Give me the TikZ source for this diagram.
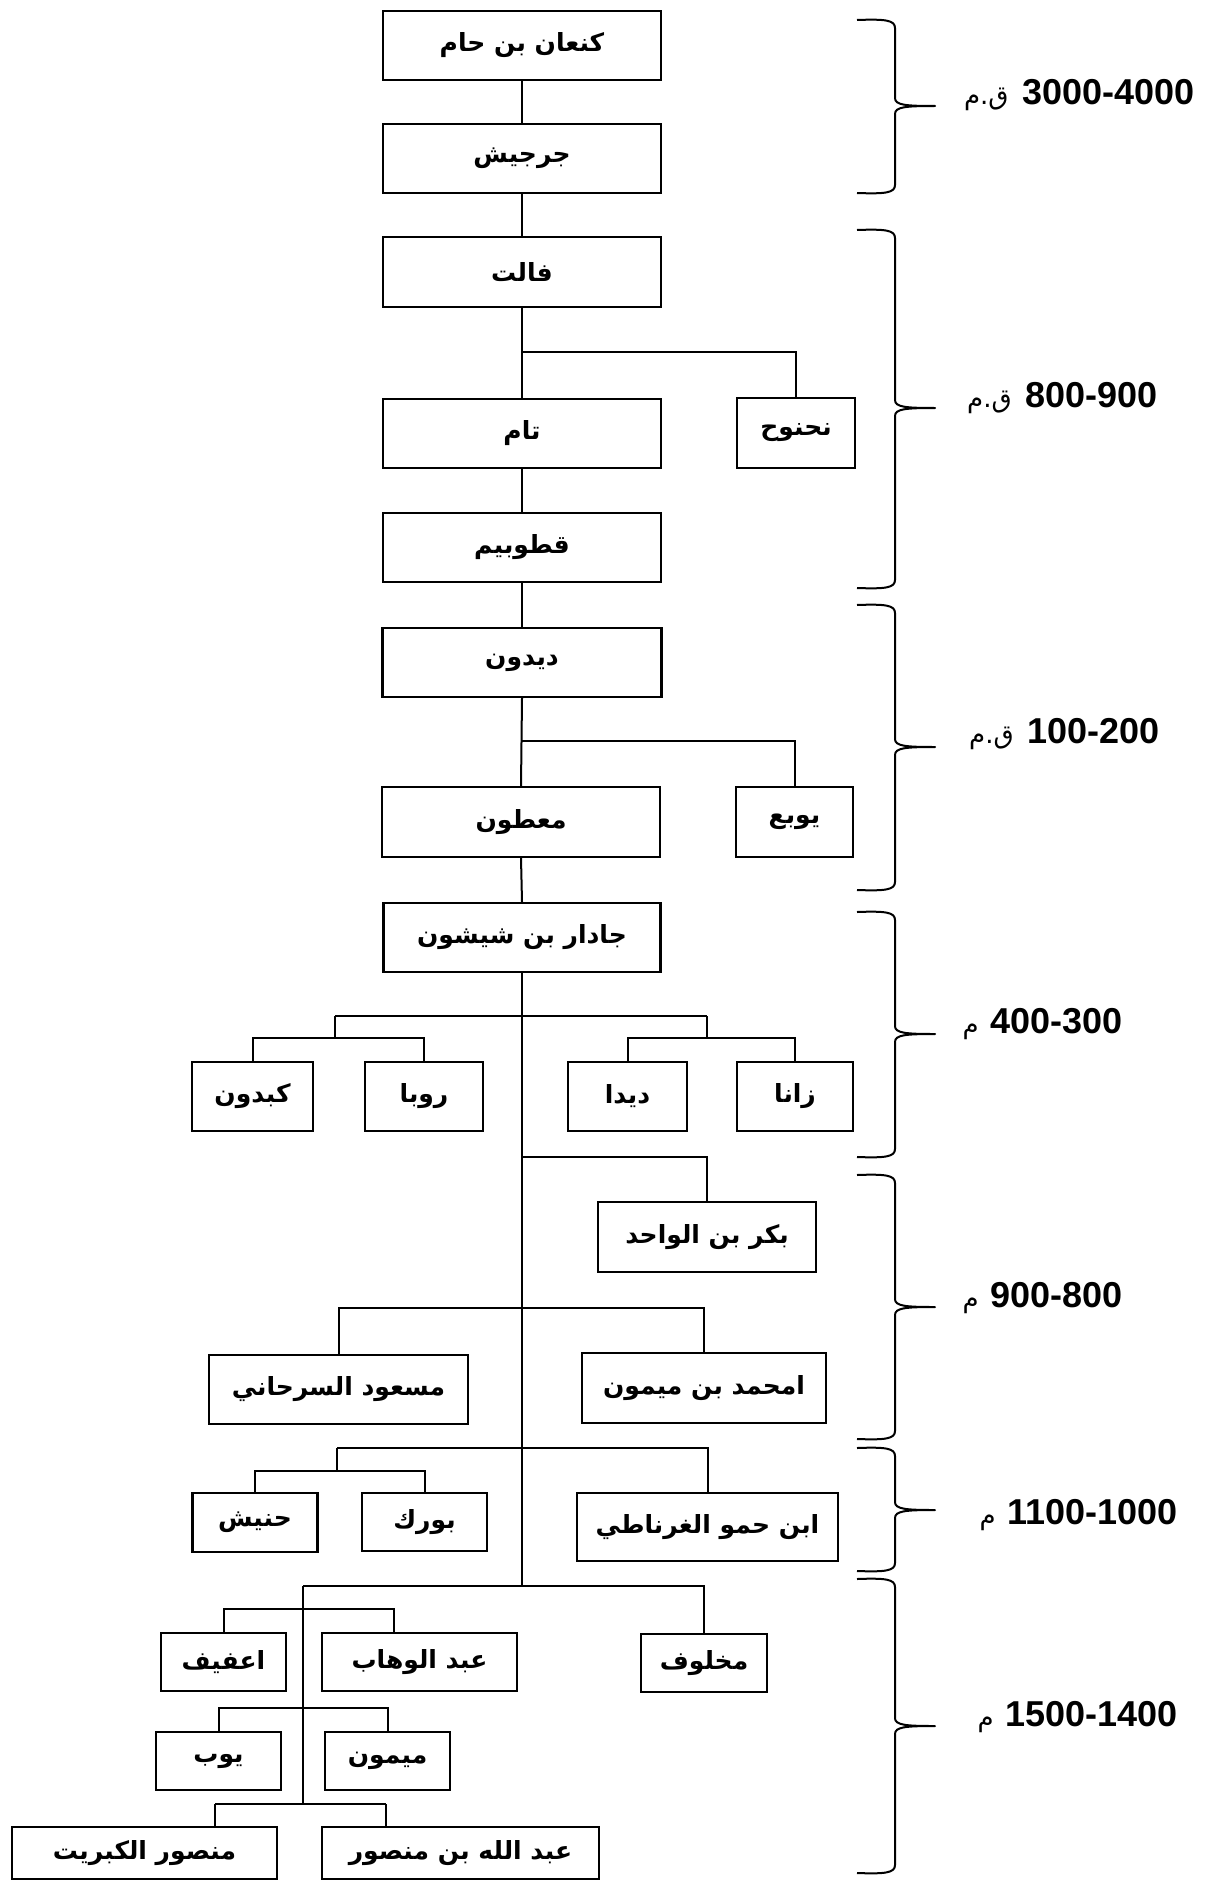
\documentclass[tikz,border=0pt]{standalone}
\usepackage{fontspec}
\TeXXeTstate=1
\newfontfamily\arabicfont[Script=Arabic]{DejaVu Sans}
\newfontfamily\numfont{Liberation Sans}
\newcommand\artxt[1]{{\arabicfont\bfseries\fontsize{25}{30}\selectfont\beginR #1\endR}}
\newcommand\artlab[1]{{\arabicfont\fontsize{26}{30}\selectfont\beginR #1\endR}}
\newcommand\numlab[1]{{\numfont\bfseries\fontsize{36}{40}\selectfont #1}}
\newcommand\timebrace[3]{%
  \draw[bracel] (857,#1) .. controls (885,#1-1) and (895,#1) .. (895,#1+8)
    -- (895,#2-8) .. controls (895,#2-1) and (905,#2) .. (935,#2)
    .. controls (905,#2) and (895,#2+1) .. (895,#2+8)
    -- (895,#3-8) .. controls (895,#3) and (885,#3+1) .. (857,#3);}
\tikzset{
  box/.style={draw, line width=2.3pt, inner sep=0pt, fill=white},
  conn/.style={line width=2pt},
  bracel/.style={line width=2pt, line join=round},
  lab/.style={anchor=base east, inner sep=0pt},
}
\begin{document}
\begin{tikzpicture}[x=1pt,y=-1pt]
\useasboundingbox[fill=white] (0,0) rectangle (1208,1881);

% upper chain
\node[box, minimum width=278, minimum height=69] (k1) at (522,45.5) {\artxt{كنعان بن حام}};
\node[box, minimum width=278, minimum height=69] (k2) at (522,158.5) {\artxt{جرجيش}};
\node[box, minimum width=278, minimum height=70] (k3) at (522,272) {\artxt{فالت}};
\node[box, minimum width=278, minimum height=69] (k4) at (522,433.5) {\artxt{تام}};
\node[box, minimum width=118, minimum height=70] (k5) at (796,433) {\artxt{نحنوح}};
\node[box, minimum width=278, minimum height=69] (k6) at (522,547.5) {\artxt{قطوبيم}};
\node[box, minimum width=279, minimum height=69] (k7) at (522,662.5) {\artxt{ديدون}};
\node[box, minimum width=278, minimum height=70] (k8) at (521,822) {\artxt{معطون}};
\node[box, minimum width=117, minimum height=70] (k9) at (794.5,822) {\artxt{يوبع}};
\node[box, minimum width=277, minimum height=69] (k10) at (522,937.5) {\artxt{جادار بن شيشون}};

% children of jadar
\node[box, minimum width=121, minimum height=69] (kabdun) at (252.5,1096.5) {\artxt{كبدون}};
\node[box, minimum width=118, minimum height=69] (rouba) at (424,1096.5) {\artxt{روبا}};
\node[box, minimum width=119, minimum height=69] (dida) at (627.5,1096.5) {\artxt{ديدا}};
\node[box, minimum width=116, minimum height=69] (zana) at (795,1096.5) {\artxt{زانا}};
\node[box, minimum width=218, minimum height=70] (bakr) at (707,1237) {\artxt{بكر بن الواحد}};
\node[box, minimum width=259, minimum height=69] (masud) at (338.5,1389.5) {\artxt{مسعود السرحاني}};
\node[box, minimum width=244, minimum height=70] (amhamed) at (704,1388) {\artxt{امحمد بن ميمون}};
\node[box, minimum width=125, minimum height=59] (hnish) at (255,1522.5) {\artxt{حنيش}};
\node[box, minimum width=125, minimum height=58] (bourk) at (424.5,1522) {\artxt{بورك}};
\node[box, minimum width=261, minimum height=68] (ibnhamu) at (707.5,1527) {\artxt{ابن حمو الغرناطي}};
\node[box, minimum width=126, minimum height=58] (makhluf) at (704,1663) {\artxt{مخلوف}};
\node[box, minimum width=125, minimum height=58] (affif) at (223.5,1662) {\artxt{اعفيف}};
\node[box, minimum width=195, minimum height=58] (wahhab) at (419.5,1662) {\artxt{عبد الوهاب}};
\node[box, minimum width=125, minimum height=58] (yub) at (218.5,1761) {\artxt{يوب}};
\node[box, minimum width=125, minimum height=58] (maymun) at (387.5,1761) {\artxt{ميمون}};
\node[box, minimum width=265, minimum height=52] (mansur) at (144.5,1853) {\artxt{منصور الكبريت}};
\node[box, minimum width=277, minimum height=52] (abdallah) at (460.5,1853) {\artxt{عبد الله بن منصور}};

% junction coordinates
\coordinate (j1) at (522,352);
\coordinate (j2) at (522,741);
\coordinate (j3l) at (335,1016);
\coordinate (j3r) at (707,1016);
\coordinate (g1) at (335,1038);
\coordinate (g2) at (707,1038);
\coordinate (j4) at (522,1157);
\coordinate (j5) at (522,1308);
\coordinate (j6) at (522,1448);
\coordinate (g6) at (337,1448);
\coordinate (g6b) at (337,1471);
\coordinate (tend) at (522,1586);
\coordinate (g7) at (303,1586);
\coordinate (s1) at (303,1609);
\coordinate (w1) at (394,1609);
\coordinate (s2) at (303,1708);
\coordinate (s3) at (303,1804);
\coordinate (m1) at (215,1804);
\coordinate (m2) at (386,1804);

% connectors
\begin{scope}[conn]
\draw (k1) -- (k2);
\draw (k2) -- (k3);
\draw (k3) -- (k4);
\draw (j1) -| (k5.north);
\draw (k4) -- (k6);
\draw (k6) -- (k7);
\draw (k7.south) -- (k8.north);
\draw (j2) -| (k9.north);
\draw (k8.south) -- (k10.north);
\draw (k10.south) -- (tend);
\draw (j3l) -- (j3r);
\draw (j3l) -- (g1);
\draw (j3r) -- (g2);
\draw (kabdun.north) |- (g1) -| (rouba.north);
\draw (dida.north) |- (g2) -| (zana.north);
\draw (j4) -| (bakr.north);
\draw (masud.north) |- (j5) -| (amhamed.north);
\draw (g6) -- (j6) -| (ibnhamu.north);
\draw (g6) -- (g6b);
\draw (hnish.north) |- (g6b) -| (bourk.north);
\draw (g7) -- (tend) -| (makhluf.north);
\draw (g7) -- (s3);
\draw (affif.north) |- (s1) -- (w1) -- (w1 |- wahhab.north);
\draw (yub.north) |- (s2) -| (maymun.north);
\draw (m1) -- (m2);
\draw (m1) -- (m1 |- mansur.north);
\draw (m2) -- (m2 |- abdallah.north);
\end{scope}

% braces
\timebrace{20}{106}{193}
\timebrace{230}{408}{588}
\timebrace{605}{747}{890}
\timebrace{912}{1034}{1157}
\timebrace{1175}{1307}{1439}
\timebrace{1448}{1510}{1571}
\timebrace{1579}{1726}{1873}

% period labels
\node[lab] (p1) at (1195,105) {\artlab{ق.م}\hspace{14pt}\numlab{3000-4000}};
\node[lab] (p2) at (1158,407) {\artlab{ق.م}\hspace{14pt}\numlab{800-900}};
\node[lab] (p3) at (1160,743) {\artlab{ق.م}\hspace{14pt}\numlab{100-200}};
\node[lab] (p4) at (1123,1033) {\artlab{م}\hspace{12pt}\numlab{400-300}};
\node[lab] (p5) at (1123,1307) {\artlab{م}\hspace{12pt}\numlab{900-800}};
\node[lab] (p6) at (1178,1524) {\artlab{م}\hspace{12pt}\numlab{1100-1000}};
\node[lab] (p7) at (1178,1726) {\artlab{م}\hspace{12pt}\numlab{1500-1400}};
\end{tikzpicture}
\end{document}
